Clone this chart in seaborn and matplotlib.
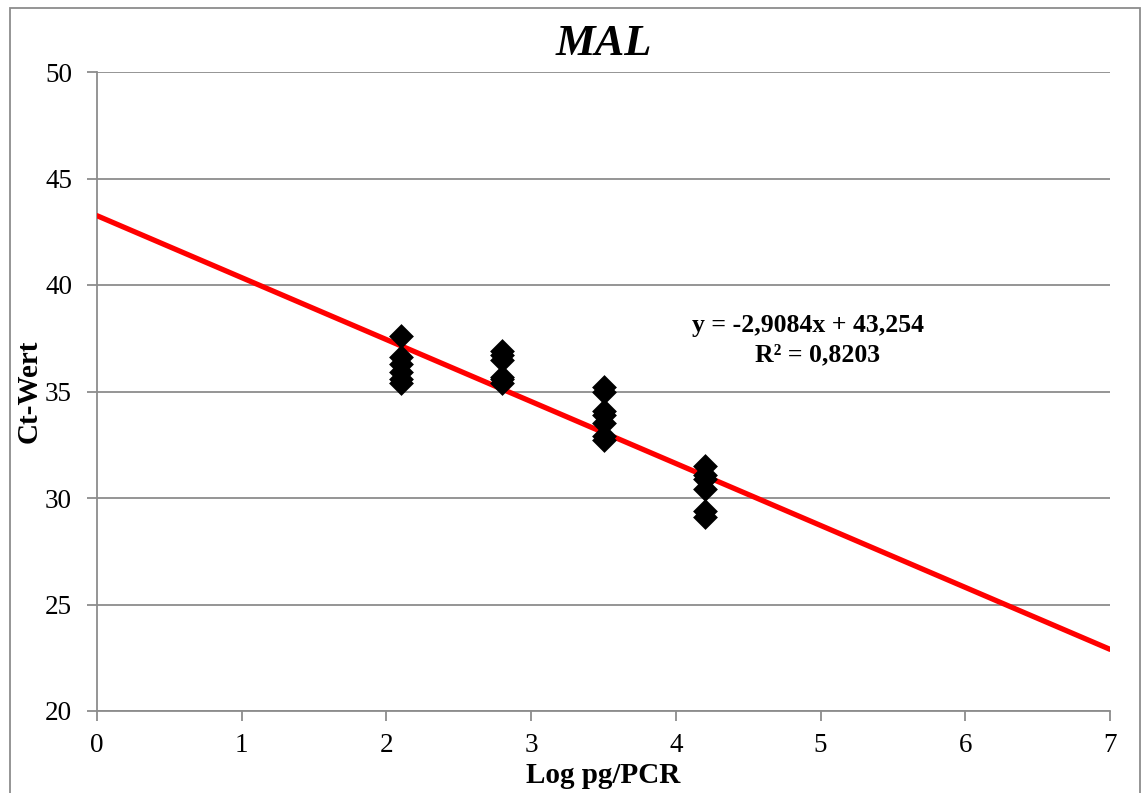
import numpy as np
import pandas as pd
import matplotlib
matplotlib.use("Agg")
import matplotlib.pyplot as plt
import seaborn as sns
from matplotlib.patches import Rectangle

# data
log_pg = [2.1]*6 + [2.8]*6 + [3.5]*7 + [4.2]*6
ct_wert = [37.6, 36.6, 36.3, 35.9, 35.6, 35.4,
           36.9, 36.7, 36.5, 35.7, 35.6, 35.4,
           35.2, 35.0, 34.1, 33.9, 33.5, 32.9, 32.7,
           31.5, 31.1, 30.9, 30.4, 29.4, 29.1]
slope = -2.9084
intercept = 43.254
r2_text = "R² = 0,8203"
eq_text = "y = -2,9084x + 43,254"
x_ticks = [0, 1, 2, 3, 4, 5, 6, 7]
y_ticks = [20, 25, 30, 35, 40, 45, 50]

sns.set_theme(style="white")
plt.rcParams['font.family'] = ['Liberation Serif', 'DejaVu Serif']
plt.rcParams['text.color'] = 'black'
plt.rcParams['axes.labelcolor'] = 'black'

W, H = 1143, 793
fig = plt.figure(figsize=(W/100, H/100), dpi=100)
ax = fig.add_axes([97/W, 1-711/H, (1110-97)/W, (711-72)/H])

df = pd.DataFrame({"x": log_pg, "y": ct_wert})
line_x = np.array([0, 7])
line_df = pd.DataFrame({"x": line_x, "y": slope*line_x + intercept})

sns.lineplot(data=line_df, x="x", y="y", ax=ax, color="#ff0000", linewidth=3.8, zorder=3)
sns.scatterplot(data=df, x="x", y="y", ax=ax, marker="D", s=160, color="black",
                edgecolor="black", linewidth=0, zorder=4)

ax.set_xlim(0, 7)
ax.set_ylim(20, 50)
ax.set_xticks(x_ticks)
ax.set_yticks(y_ticks)
ax.set_xticklabels([str(t) for t in x_ticks])
ax.set_yticklabels([str(t) for t in y_ticks])
ax.grid(axis='y', color="#8c8c8c", linewidth=1.3)
ax.grid(axis='x', visible=False)
ax.set_axisbelow(True)
for s in ["top", "right"]:
    ax.spines[s].set_visible(False)
for s in ["left", "bottom"]:
    ax.spines[s].set_color("#8c8c8c")
    ax.spines[s].set_linewidth(1.3)
ax.tick_params(axis='both', which='major', direction='out', length=7, width=1.3,
               color="#8c8c8c", labelsize=19.5, labelcolor="black")
ax.tick_params(axis='y', left=True, pad=11)
ax.tick_params(axis='x', bottom=True, pad=9)

ax.set_xlabel("Log pg/PCR", fontsize=21, fontweight="bold", color="black")
ax.set_ylabel("Ct-Wert", fontsize=21, fontweight="bold", color="black")
ax.xaxis.set_label_coords(0.5, -(762 - 711) / 639)
ax.yaxis.set_label_coords(-(97 - 43) / 1013, 0.5)
ax.set_title("MAL", fontsize=32, fontweight="bold", style="italic", pad=12, color="black")

ax.text(4.91, 38.1, eq_text, ha="center", va="center", fontsize=18.5, fontweight="bold", color="black")
ax.text(4.98, 36.7, r2_text, ha="center", va="center", fontsize=18.5, fontweight="bold", color="black")

fig.patches.append(Rectangle((10/W, -0.1), (1140-10)/W, 1.1 - 8/H, transform=fig.transFigure,
                             fill=False, edgecolor="#8c8c8c", linewidth=1.3))

fig.savefig("out.png", dpi=100)
